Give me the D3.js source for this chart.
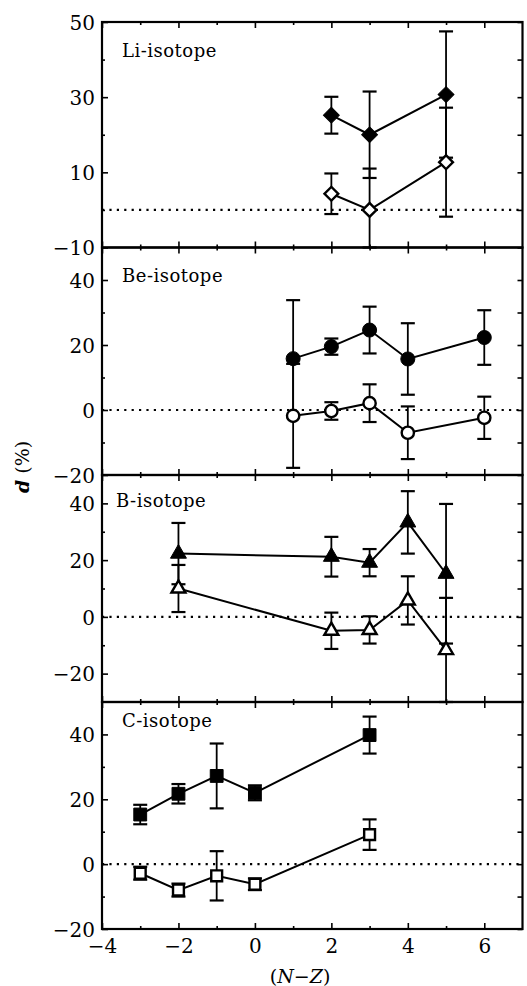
<!DOCTYPE html>
<html>
<head>
<meta charset="utf-8">
<script src="https://cdn.jsdelivr.net/npm/d3@7/dist/d3.min.js"></script>
<style>
  html, body { margin: 0; padding: 0; background: #fff; }
  svg { display: block; }
  text { font-family: "DejaVu Serif", "Liberation Serif", serif; fill: #000; }
</style>
</head>
<body>
<script>
// ---------------- data ----------------
const xMajorTicks = [-4, -2, 0, 2, 4, 6];
const xMinorTicks = [-3, -1, 1, 3, 5];

const liX = [2, 3, 5];
const liFilled = [25.2, 20.0, 30.7];
const liFilledErr = [4.9, 11.5, 16.8];
const liOpen = [4.3, 0.0, 12.7];
const liOpenErr = [5.4, 11.0, 14.5];
const liMajorTicks = [50, 30, 10, -10];
const liMinorTicks = [40, 20, 0];

const beX = [1, 2, 3, 4, 6];
const beFilled = [15.8, 19.5, 24.6, 15.7, 22.3];
const beFilledErr = [18.0, 2.5, 7.2, 11.0, 8.4];
const beOpen = [-1.8, -0.3, 2.1, -7.0, -2.4];
const beOpenErr = [16.0, 2.7, 5.8, 8.1, 6.5];
const beMajorTicks = [40, 20, 0, -20];
const beMinorTicks = [30, 10, -10];

const bX = [-2, 2, 3, 4, 5];
const bFilled = [22.3, 21.2, 19.1, 33.3, 15.2];
const bFilledErr = [10.8, 7.0, 4.8, 11.0, 24.6];
const bOpen = [10.0, -4.9, -4.6, 5.8, -11.7];
const bOpenErr = [8.3, 6.4, 4.8, 8.5, 18.4];
const bMajorTicks = [40, 20, 0, -20];
const bMinorTicks = [30, 10, -10];

const cX = [-3, -2, -1, 0, 3];
const cFilled = [15.3, 21.7, 27.2, 22.0, 39.8];
const cFilledErr = [3.0, 3.0, 10.0, 2.3, 5.7];
const cOpen = [-2.8, -8.0, -3.6, -6.2, 9.1];
const cOpenErr = [2.0, 2.0, 7.6, 1.8, 4.7];
const cMajorTicks = [40, 20, 0, -20];
const cMinorTicks = [30, 10, -10];

const panelNames = ["Li-isotope", "Be-isotope", "B-isotope", "C-isotope"];

// ---------------- layout ----------------
const W = 527, H = 986;
const left = 102, right = 522.5;
const panels = [
  { name: panelNames[0], top: 22, bottom: 247.5, domain: [-10, 50], xs: liX, filled: liFilled, filledErr: liFilledErr, open: liOpen, openErr: liOpenErr, major: liMajorTicks, minor: liMinorTicks, shape: "diamond", labelY: 57, labelX: 122 },
  { name: panelNames[1], top: 247.5, bottom: 475, domain: [-20, 50], xs: beX, filled: beFilled, filledErr: beFilledErr, open: beOpen, openErr: beOpenErr, major: beMajorTicks, minor: beMinorTicks, shape: "circle", labelY: 282, labelX: 122 },
  { name: panelNames[2], top: 475, bottom: 702, domain: [-30, 50], xs: bX, filled: bFilled, filledErr: bFilledErr, open: bOpen, openErr: bOpenErr, major: bMajorTicks, minor: bMinorTicks, shape: "triangle", labelY: 507, labelX: 116 },
  { name: panelNames[3], top: 702, bottom: 929, domain: [-20, 50], xs: cX, filled: cFilled, filledErr: cFilledErr, open: cOpen, openErr: cOpenErr, major: cMajorTicks, minor: cMinorTicks, shape: "square", labelY: 727, labelX: 122 }
];

const svg = d3.select("body").append("svg").attr("width", W).attr("height", H);
const x = d3.scaleLinear().domain([-4, 7]).range([left, right]);
const fmt = d3.format("");

function symbolFor(shape, filled) {
  if (shape === "diamond") return { type: d3.symbolSquare, size: filled ? 125 : 95, rot: 45 };
  if (shape === "circle") return { type: d3.symbolCircle, size: filled ? 155 : 118, rot: 0 };
  if (shape === "triangle") return { type: d3.symbolTriangle, size: filled ? 110 : 85, rot: 0 };
  return { type: d3.symbolSquare, size: filled ? 165 : 118, rot: 0 };
}

panels.forEach((p, i) => {
  const y = d3.scaleLinear().domain(p.domain).range([p.bottom, p.top]);
  const g = svg.append("g");

  g.append("line")
    .attr("x1", x(-4)).attr("x2", x(7))
    .attr("y1", y(0)).attr("y2", y(0))
    .attr("stroke", "#000").attr("stroke-width", 2.2)
    .attr("stroke-dasharray", "2.2,5.2");

  const series = [
    { vals: p.filled, errs: p.filledErr, filled: true },
    { vals: p.open, errs: p.openErr, filled: false }
  ];

  const line = d3.line().x(d => x(d.x)).y(d => y(d.v));

  series.forEach(s => {
    const pts = p.xs.map((xv, k) => ({ x: xv, v: s.vals[k], e: s.errs[k] }));
    g.append("path").datum(pts)
      .attr("d", line).attr("fill", "none")
      .attr("stroke", "#000").attr("stroke-width", 2);
    const eb = g.append("g").attr("stroke", "#000").attr("stroke-width", 1.8);
    pts.forEach(d => {
      const lo = Math.max(d.v - d.e, p.domain[0]);
      const hi = d.v + d.e;
      eb.append("line").attr("x1", x(d.x)).attr("x2", x(d.x)).attr("y1", y(lo)).attr("y2", y(hi));
      eb.append("line").attr("x1", x(d.x) - 7).attr("x2", x(d.x) + 7).attr("y1", y(hi)).attr("y2", y(hi)).attr("stroke-width", 2.2);
      eb.append("line").attr("x1", x(d.x) - 7).attr("x2", x(d.x) + 7).attr("y1", y(lo)).attr("y2", y(lo)).attr("stroke-width", 2.2);
    });
  });

  series.forEach(s => {
    const sym = symbolFor(p.shape, s.filled);
    const gen = d3.symbol().type(sym.type).size(sym.size);
    p.xs.forEach((xv, k) => {
      g.append("path")
        .attr("d", gen())
        .attr("transform", `translate(${x(xv)},${y(s.vals[k])}) rotate(${sym.rot})`)
        .attr("fill", s.filled ? "#000" : "#fff")
        .attr("stroke", "#000")
        .attr("stroke-width", s.filled ? 1 : 2.4);
    });
  });

  const axL = g.append("g").attr("transform", `translate(${left},0)`)
    .call(d3.axisLeft(y).tickValues(p.major).tickSize(-6).tickPadding(7).tickFormat(fmt));
  const axLm = g.append("g").attr("transform", `translate(${left},0)`)
    .call(d3.axisLeft(y).tickValues(p.minor).tickSize(-3).tickFormat(""));
  const axR = g.append("g").attr("transform", `translate(${right},0)`)
    .call(d3.axisRight(y).tickValues(p.major.concat(p.minor)).tickSize(-5).tickFormat(""));
  const axT = g.append("g").attr("transform", `translate(0,${p.top})`)
    .call(d3.axisTop(x).tickValues(xMajorTicks).tickSize(-6).tickFormat(""));
  const axTm = g.append("g").attr("transform", `translate(0,${p.top})`)
    .call(d3.axisTop(x).tickValues(xMinorTicks).tickSize(-3).tickFormat(""));
  const last = i === panels.length - 1;
  const axB = g.append("g").attr("transform", `translate(0,${p.bottom})`)
    .call(d3.axisBottom(x).tickValues(xMajorTicks).tickSize(-6).tickPadding(10).tickFormat(last ? fmt : ""));
  const axBm = g.append("g").attr("transform", `translate(0,${p.bottom})`)
    .call(d3.axisBottom(x).tickValues(xMinorTicks).tickSize(-3).tickFormat(""));

  [axL, axLm, axR, axT, axTm, axB, axBm].forEach(a => {
    a.select(".domain").remove();
    a.selectAll(".tick line").attr("stroke", "#000").attr("stroke-width", 1.6);
    a.selectAll(".tick text")
      .attr("font-family", "'DejaVu Serif', serif")
      .attr("font-size", 20)
      .attr("fill", "#000");
  });
  axL.selectAll(".tick text").attr("dy", "0.36em");
  axB.selectAll(".tick text").attr("dy", "0.72em");

  g.append("rect")
    .attr("x", left).attr("y", p.top)
    .attr("width", right - left).attr("height", p.bottom - p.top)
    .attr("fill", "none").attr("stroke", "#000").attr("stroke-width", 2.2);

  g.append("text")
    .attr("x", p.labelX).attr("y", p.labelY)
    .attr("font-size", 18)
    .attr("letter-spacing", 0.5)
    .text(p.name);
});

const yt = svg.append("text")
  .attr("transform", "translate(29,467) rotate(-90)")
  .attr("text-anchor", "middle")
  .attr("font-size", 19);
yt.append("tspan").attr("font-style", "italic").attr("font-weight", "bold").text("d");
yt.append("tspan").text(" (%)");

const xt = svg.append("text")
  .attr("x", 300).attr("y", 983)
  .attr("text-anchor", "middle")
  .attr("font-size", 19);
xt.append("tspan").text("(");
xt.append("tspan").attr("font-style", "italic").text("N");
xt.append("tspan").text("−");
xt.append("tspan").attr("font-style", "italic").text("Z");
xt.append("tspan").text(")");
</script>
</body>
</html>
